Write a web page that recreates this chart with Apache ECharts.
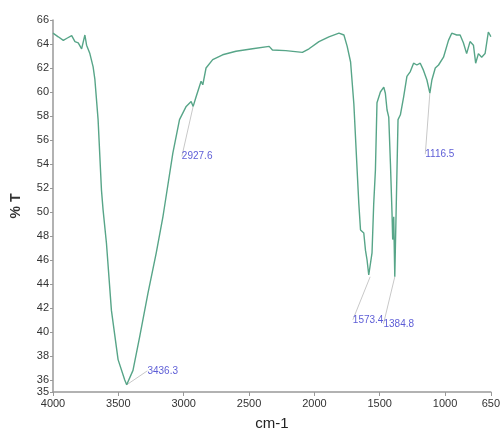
<!DOCTYPE html>
<html><head><meta charset="utf-8">
<script src="https://cdn.jsdelivr.net/npm/echarts@6/dist/echarts.min.js"></script>
<style>html,body{margin:0;padding:0;background:#fff}#c{width:503px;height:437px}</style>
</head><body><div id="c"></div>
<script>
const wavenumbers = [4000,3960,3921,3890,3857,3832,3807,3781,3756,3743,3718,3693,3680,3655,3629,3617,3591,3553,3502,3451,3436.3,3388,3337,3274,3210,3159,3146,3083,3032,2981,2943,2927.6,2905,2867,2854,2829,2778,2702,2600,2473,2346,2321,2219,2092,2041,1965,1889,1812,1774,1749,1723,1698,1673,1660,1647,1622,1609,1597,1584,1573.4,1559,1546,1533,1521,1495,1469,1457,1444,1431,1418,1406,1401,1393,1384.8,1376,1368,1360,1342,1317,1292,1266,1241,1216,1190,1165,1139,1116.5,1101,1075,1050,1012,974,949,911,885,860,835,809,783,766,745,720,694,669,656,650];
const transmittance = [64.9,64.6,64.3,64.5,64.7,64.2,64.1,63.6,64.75,63.9,63.2,62.1,61.1,57.7,51.8,50.2,47.4,41.8,37.7,36.0,35.6,36.8,39.6,43.2,46.6,49.6,50.5,54.9,57.7,58.8,59.2,58.8,59.6,60.9,60.6,62.0,62.7,63.1,63.4,63.6,63.8,63.5,63.45,63.3,63.6,64.2,64.6,64.9,64.75,63.8,62.5,59.0,53.5,50.7,48.5,48.25,46.8,46.0,44.75,44.6,46.6,50.7,53.5,59.1,60.0,60.4,59.9,58.5,57.9,54.0,49.9,47.7,49.6,44.6,49.3,53.5,57.7,58.1,59.6,61.3,61.7,62.4,62.25,62.4,61.8,61.0,59.9,61.0,62.0,62.25,62.9,64.3,64.9,64.75,64.75,64.1,63.2,64.2,63.9,62.4,63.2,62.9,63.2,65.0,64.75,64.6];
const peakWn = [3436.3, 2927.6, 1573.4, 1384.8, 1116.5];
const peakT = [35.6, 58.8, 44.6, 44.6, 59.9];
const peakLabels = ['3436.3', '2927.6', '1573.4', '1384.8', '1116.5'];
const xTicks = [4000, 3500, 3000, 2500, 2000, 1500, 1000, 650];
const yTicks = [35,36,38,40,42,44,46,48,50,52,54,56,58,60,62,64,66];

const labelOffsets = [[36,-14],[4,50],[-2,43],[4,47],[10,61]];
const font = "'Liberation Sans Narrow','Liberation Sans',Arial,sans-serif";

const chart = echarts.init(document.getElementById('c'));
chart.setOption({
  animation: false,
  grid: {left: 53, right: 11, top: 20, bottom: 45},
  xAxis: {
    type: 'value', inverse: true, min: 650, max: 4000,
    name: 'cm-1', nameLocation: 'middle', nameGap: 24,
    nameTextStyle: {fontFamily: font, fontSize: 15, color: '#222'},
    axisLine: {lineStyle: {color: '#999', width: 1.5}},
    axisTick: {show: true, customValues: xTicks, length: 4, lineStyle: {color: '#999'}},
    axisLabel: {customValues: xTicks, formatter: v => String(v), fontFamily: font, fontSize: 11, color: '#333', margin: 6},
    splitLine: {show: false}
  },
  yAxis: {
    type: 'value', min: 35, max: 66,
    name: '% T', nameLocation: 'middle', nameGap: 30, nameRotate: 90,
    nameTextStyle: {fontFamily: font, fontSize: 14, fontWeight: 'bold', color: '#333'},
    axisLine: {show: true, lineStyle: {color: '#999', width: 1.5}},
    axisTick: {show: true, customValues: yTicks, length: 3, lineStyle: {color: '#999'}},
    axisLabel: {customValues: yTicks, formatter: v => String(v), fontFamily: font, fontSize: 11, color: '#333', margin: 4},
    splitLine: {show: false}
  },
  series: [
    {
      type: 'line', showSymbol: false, symbol: 'none',
      data: wavenumbers.map((w, i) => [w, transmittance[i]]),
      lineStyle: {color: '#57a588', width: 1.4},
      z: 3
    },
    {
      type: 'scatter', symbolSize: 0,
      data: peakWn.map((w, i) => ({value: [w, peakT[i]], name: peakLabels[i]})),
      label: {show: true, formatter: p => p.name, fontFamily: font, fontSize: 10, color: '#3333cc', position: 'inside'},
      labelLine: {show: true, lineStyle: {color: '#c8c8c8', width: 1}},
      labelLayout: p => ({dx: labelOffsets[p.dataIndex][0], dy: labelOffsets[p.dataIndex][1]}),
      z: 2
    }
  ]
});
</script></body></html>
